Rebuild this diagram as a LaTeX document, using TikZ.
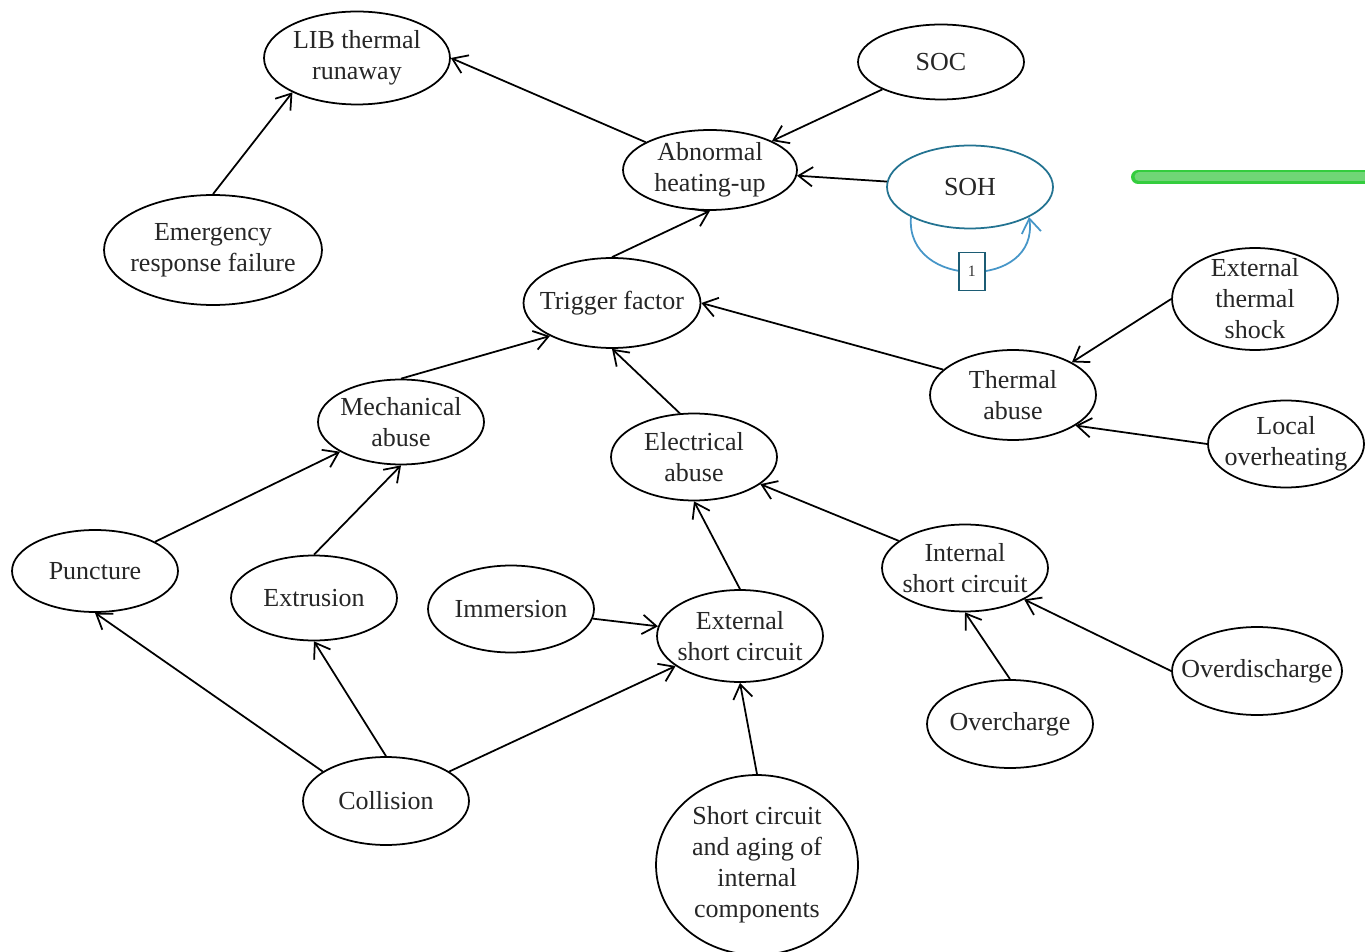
\documentclass[tikz,border=0pt]{standalone}
\usepackage{fontspec}
\setmainfont{Liberation Serif}
\usetikzlibrary{shapes,arrows.meta,calc}
\definecolor{sohblue}{RGB}{35,115,145}
\definecolor{loopblue}{RGB}{70,150,200}
\definecolor{barfill}{RGB}{112,214,118}
\definecolor{baredge}{RGB}{52,205,62}

\begin{document}
\begin{tikzpicture}[x=0.02cm,y=-0.02cm,line width=1pt,>={Straight Barb[length=8pt,width=11pt]},
  evstyle/.style={ellipse,draw,inner xsep=-15pt,inner ysep=-10pt,align=center,text=black!85,
    font=\fontsize{14.8}{17.6}\selectfont,minimum width=3.32cm,minimum height=1.74cm},
  sohstyle/.style={evstyle,draw=sohblue},
  boxstyle/.style={rectangle,draw=sohblue!80!black,fill=white,line width=0.8pt,inner sep=0pt,
    minimum width=0.52cm,minimum height=0.76cm,font=\fontsize{9}{10}\selectfont}]

  \fill[white] (0,0) rectangle (1365,952);
  \useasboundingbox (0,0) rectangle (1365,952);

% top part
  \node [evstyle, minimum width=3.72cm, minimum height=1.86cm] (lib) at (357,58) {LIB thermal\\runaway};
  \node [evstyle, minimum height=1.5cm] (soc) at (941,62) {SOC};
  \node [evstyle, minimum width=3.48cm, minimum height=1.6cm] (abn) at (710,170) {Abnormal\\heating-up};
  \node [sohstyle, minimum height=1.66cm] (soh) at (970,187) {SOH};
  \node [evstyle, minimum width=4.36cm, minimum height=2.2cm] (emer) at (213,250) {Emergency\\response failure};
  \node [evstyle, minimum width=3.54cm, minimum height=1.8cm] (trig) at (612,303) {Trigger factor};
% abuse types
  \node [evstyle, minimum height=2.04cm] (ets) at (1255,299) {External\\thermal\\shock};
  \node [evstyle, minimum height=1.8cm] (tha) at (1013,395) {Thermal\\abuse};
  \node [evstyle, minimum height=1.7cm] (mech) at (401,422) {Mechanical\\abuse};
  \node [evstyle] (elec) at (694,457) {Electrical\\abuse};
  \node [evstyle, minimum width=3.12cm] (loc) at (1286,444) {Local\\overheating};
% causes
  \node [evstyle, minimum height=1.64cm] (punc) at (95,571) {Puncture};
  \node [evstyle, minimum height=1.7cm] (extr) at (314,598) {Extrusion};
  \node [evstyle] (imm) at (511,609) {Immersion};
  \node [evstyle, minimum height=1.84cm] (esc) at (740,636) {External\\short circuit};
  \node [evstyle] (isc) at (965,568) {Internal\\short circuit};
  \node [evstyle, minimum width=3.4cm, minimum height=1.76cm] (odis) at (1257,671) {Overdischarge};
  \node [evstyle, minimum height=1.76cm] (ochg) at (1010,724) {Overcharge};
  \node [evstyle, minimum height=1.76cm] (coll) at (386,801) {Collision};
  \node [evstyle, minimum width=4.04cm, minimum height=3.6cm] (aging) at (757,865) {Short circuit\\and aging of\\internal\\components};

  \foreach \a/\b in {abn/lib.east, emer.north/lib.208, soc/abn, soh/abn, trig.north/abn.south,
      tha.160/trig.east, mech.north/trig.208, elec.108/trig.south, ets.west/tha.29, loc.west/tha.-26,
      punc/mech, extr.north/mech.south, isc/elec, esc.north/elec.south, imm/esc, coll/esc,
      coll.north/extr.south, coll.155/punc.south, aging.north/esc.south, ochg.north/isc.south,
      odis.west/isc.-28} {
    \draw [->] (\a) -- (\b);
  }

% self loop on SOH
  \draw [->, loopblue] (soh.207) .. controls (905,290) and (1040,290) .. node [boxstyle, text=black!80] (one) {1} (soh.333);

% green bar at the right border
  \draw [line width=14*0.02cm, line cap=round, baredge] (1138,177) -- (1390,177);
  \draw [line width=9*0.02cm, line cap=round, barfill] (1139,177) -- (1390,177);
\end{tikzpicture}
\end{document}
